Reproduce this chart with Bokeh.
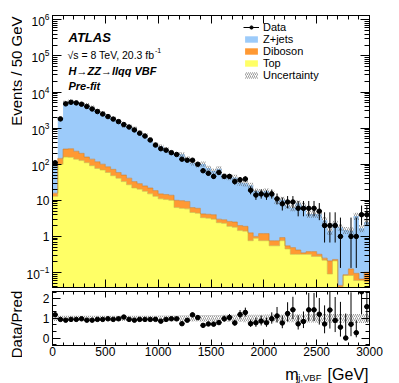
import numpy as np
from bokeh.plotting import figure
from bokeh.layouts import column, row
from bokeh.models import (Range1d, FixedTicker, LinearAxis, LogAxis, Label,
                          Legend, LegendItem)
from bokeh.embed import file_html
from bokeh.resources import INLINE

# ---------------- data ----------------
mjj_edges = list(range(0, 3001, 50))          # 50 GeV bins, 0..3000 GeV

data = [110, 1800, 4700, 5200, 5000, 4600, 3980, 3390, 2880, 2455,
        2090, 1778, 1514, 1259, 1072, 891, 724, 603, 468, 339,
        269, 245, 209, 186, 138, 129, 129, 100, 66, 56,
        46, 59, 46, 46, 33, 37, 39, 19, 14, 15,
        14, 15, 11, 8, 9, 9, 6, 6, 6, 6,
        5, 2, 2, 2, 1, 0, 1, 1, 4, 4]

zjets = [77, 1750, 4900, 5205, 5034, 4494, 4216, 3587, 2915, 2484,
         2048, 1800, 1486, 1127, 1087, 946, 733, 610, 471, 338,
         298, 243.5, 199, 180, 179, 133, 103, 90, 98, 74,
         61, 72, 44, 41.4, 40.5, 29, 28, 24.7, 17, 16.2,
         16.8, 14.5, 9.0, 9.5, 6.65, 5.76, 7.9, 6.75, 3.8, 3.8,
         3.8, 2.55, 1.19, 2.0, 1.76, 1.41, 1.3, 3.6, 1.63, 2.4]

diboson = [2.9, 45, 105, 114, 91, 74, 48, 47, 41, 31,
           26, 24, 18, 17, 14, 11, 8.6, 7.2, 6.8, 5.7,
           4.1, 4.0, 3.8, 3.7, 3.8, 3.5, 1.7, 1.6, 0.9, 0.9,
           1.0, 0.6, 0.6, 0.7, 0.7, 0.55, 0.5, 0.5, 0.11, 0.44,
           0.44, 0.21, 0.21, 0.17, 0.10, 0.17, 0.10, 0.03, 0.06, 0.10,
           0.04, 0.03, 0.12, 0.02, 0.024, 0.004, 0.043, 0.035, 0.006, 0.047]

top = [12.9, 100, 158, 155, 138, 126, 110, 91, 76, 69,
       59, 48, 41, 33, 27, 22, 20.4, 17.8, 15.1, 12.9,
       11, 10.5, 10, 6.3, 6.0, 5.8, 4.6, 4.4, 3.3, 3.2,
       3.0, 2.4, 2.3, 1.9, 1.8, 1.45, 1.4, 0.76, 0.89, 0.76,
       0.76, 0.55, 0.55, 0.76, 0.45, 0.32, 0.32, 0.32, 0.32, 0.28,
       0.28, 0.22, 0.091, 0.21, 0.02, 0.083, 0.083, 0.060, 0.060, 0.055]

# relative uncertainty of the prediction
uncert = [0.13, 0.13, 0.13, 0.13, 0.13, 0.13, 0.13, 0.13, 0.13, 0.13,
          0.13, 0.13, 0.13, 0.13, 0.13, 0.14, 0.14, 0.14, 0.14, 0.14,
          0.15, 0.15, 0.15, 0.15, 0.16, 0.16, 0.16, 0.16, 0.17, 0.17,
          0.17, 0.17, 0.18, 0.18, 0.18, 0.18, 0.19, 0.19, 0.19, 0.19,
          0.20, 0.20, 0.20, 0.20, 0.20, 0.20, 0.21, 0.21, 0.21, 0.21,
          0.22, 0.22, 0.22, 0.22, 0.22, 0.22, 0.23, 0.23, 0.23, 0.23]

x_ticks = [0, 500, 1000, 1500, 2000, 2500, 3000]
x_minor = list(range(0, 3001, 100))
y_decades = [-1, 0, 1, 2, 3, 4, 5, 6]
ratio_ticks = [0, 1, 2]

FONT = "Liberation Sans"
BLUE = "#9CCBFA"
ORANGE = "#FF9933"
YELLOW = "#FFFF66"

# ---------------- derived arrays ----------------
edges = np.array(mjj_edges, dtype=float)
centers = 0.5 * (edges[:-1] + edges[1:])
d = np.array(data, dtype=float)
s1 = np.array(top, dtype=float)
s2 = s1 + np.array(diboson, dtype=float)
s3 = s2 + np.array(zjets, dtype=float)
u = np.array(uncert, dtype=float)

x_step = np.repeat(edges, 2)[1:-1]


def step_poly(lo, hi):
    xs = np.concatenate([x_step, x_step[::-1]])
    ys = np.concatenate([np.repeat(hi, 2), np.repeat(lo, 2)[::-1]])
    return xs, ys


# Poisson-like asymmetric errors for data
err_lo = np.where(d > 0, np.sqrt(np.maximum(d - 0.25, 0)), 0.0)
err_hi = np.sqrt(d + 0.75) + 1.0

# ---------------- geometry (page px) ----------------
LW = 22                 # width of the left title strip
FL, FT, FB = 52, 15, 287
P_H = 289
Q_H = 71
T_H = 23
W = 399 - LW
TOTAL_H = P_H + Q_H + T_H
S_TOP = 15              # frame top of the left strip


def style_axis(ax, major_in, minor_in, show_labels=False, size=12):
    ax.major_tick_in = major_in
    ax.major_tick_out = 0
    ax.minor_tick_in = minor_in
    ax.minor_tick_out = 0
    ax.axis_line_color = "black"
    ax.major_tick_line_color = "black"
    ax.minor_tick_line_color = "black"
    if show_labels:
        ax.major_label_text_font = FONT
        ax.major_label_text_font_size = f"{size}px"
        ax.major_label_text_color = "black"
    else:
        ax.major_label_text_font_size = "1px"
        ax.major_label_text_color = None
        ax.major_label_standoff = 0


def base_fig(**kw):
    f = figure(output_backend="svg", toolbar_location=None, **kw)
    f.outline_line_color = "black"
    f.outline_line_width = 1
    f.xgrid.visible = False
    f.ygrid.visible = False
    f.background_fill_color = "white"
    f.border_fill_color = "white"
    return f


# ---------------- main figure ----------------
p = base_fig(width=W, height=P_H,
             x_range=Range1d(0, 3000), y_range=Range1d(10 ** -1.415, 10 ** 6.12),
             y_axis_type="log", min_border_left=FL - LW, min_border_right=399 - 369,
             min_border_top=FT, min_border_bottom=P_H - FB)

floor = np.full_like(s1, 1e-4)
xs, ys = step_poly(floor, s1)
r_top = p.patch(xs, ys, fill_color=YELLOW, line_color=None)
xs, ys = step_poly(s1, s2)
r_dib = p.patch(xs, ys, fill_color=ORANGE, line_color=None)
xs, ys = step_poly(s2, s3)
r_zj = p.patch(xs, ys, fill_color=BLUE, line_color=None)
p.line(x_step, np.repeat(s1, 2), line_color="#C8C040", line_width=0.6)
p.line(x_step, np.repeat(s2, 2), line_color="#C87828", line_width=0.6)

xs, ys = step_poly(s3 * (1 - u), s3 * (1 + u))
r_unc = p.patch(xs, ys, fill_alpha=0, line_color=None,
                hatch_pattern="/", hatch_color="#555555", hatch_scale=4,
                hatch_weight=0.6)

m = d > 0
p.segment(centers[m], (d - err_lo)[m], centers[m], (d + err_hi)[m],
          line_color="black", line_width=1)
r_hbar = p.segment(edges[:-1][m], d[m], edges[1:][m], d[m],
                   line_color="black", line_width=1)
r_pts = p.scatter(centers[m], d[m], size=4.5, color="black")

xt = FixedTicker(ticks=x_ticks, minor_ticks=x_minor)
y_major = [10.0 ** k for k in y_decades]
y_minor = [j * 10.0 ** k for k in range(-2, 7) for j in range(2, 10)]
yt = FixedTicker(ticks=y_major, minor_ticks=y_minor)

p.xaxis.ticker = xt
p.yaxis.ticker = yt
style_axis(p.xaxis[0], 8, 4)
style_axis(p.yaxis[0], 9, 5, show_labels=True, size=12)
p.yaxis[0].major_label_standoff = 3
p.yaxis[0].major_label_overrides = {1.0: "1", 10.0: "10"}
ax_top = LinearAxis(ticker=xt)
style_axis(ax_top, 8, 4)
p.add_layout(ax_top, "above")
ax_right = LogAxis(ticker=yt)
style_axis(ax_right, 9, 5)
p.add_layout(ax_right, "right")


def lab(fig, x, y, text, size, style="normal", align="left",
        baseline="alphabetic", angle=0.0, y_units="screen", y_offset=0):
    fig.add_layout(Label(x=x, y=y, x_units="screen", y_units=y_units,
                         y_offset=y_offset,
                         text=text, text_font=FONT, text_font_size=f"{size}px",
                         text_font_style=style, text_align=align,
                         text_baseline=baseline, angle=angle,
                         text_color="black"))


def plab(X, Y, text, size, **kw):          # page coords -> main frame coords
    lab(p, X - FL, FB - Y, text, size, **kw)


plab(68, 36.5, "ATLAS", 13, style="bold italic")
plab(67, 54, "\u221as = 8 TeV, 20.3 fb", 10.5)
plab(154.5, 49.5, "-1", 7)
plab(68, 70.5, "H\u2192ZZ\u2192llqq VBF", 11, style="bold italic")
plab(68, 85.5, "Pre-fit", 11, style="bold italic")

legend = Legend(items=[
    LegendItem(label="Data", renderers=[r_hbar, r_pts]),
    LegendItem(label="Z+jets", renderers=[r_zj]),
    LegendItem(label="Diboson", renderers=[r_dib]),
    LegendItem(label="Top", renderers=[r_top]),
    LegendItem(label="Uncertainty", renderers=[r_unc]),
], location=(191, 206))
legend.label_text_font = FONT
legend.label_text_font_size = "11px"
legend.label_text_color = "black"
legend.glyph_width = 16
legend.glyph_height = 8
legend.label_height = 8
legend.label_standoff = 4
legend.spacing = 0
legend.padding = 0
legend.margin = 0
legend.border_line_color = None
legend.background_fill_alpha = 0
p.add_layout(legend)

# ---------------- ratio figure ----------------
ratio = d / s3
r_lo = (d - err_lo) / s3
r_hi = (d + err_hi) / s3

q = base_fig(width=W, height=Q_H, x_range=p.x_range,
             y_range=Range1d(-0.38, 2.37),
             min_border_left=FL - LW, min_border_right=399 - 369,
             min_border_top=2, min_border_bottom=Q_H - 2 - 54)

xs, ys = step_poly(1 - u, 1 + u)
q.patch(xs, ys, fill_alpha=0, line_color=None, hatch_pattern="/",
        hatch_color="#555555", hatch_scale=4, hatch_weight=0.6)
q.segment(centers, r_lo, centers, r_hi, line_color="black", line_width=1)
q.segment(edges[:-1], ratio, edges[1:], ratio, line_color="black", line_width=1)
q.scatter(centers, ratio, size=4.5, color="black")

rt = FixedTicker(ticks=ratio_ticks,
                 minor_ticks=[-0.333, 0.333, 0.667, 1.333, 1.667, 2.333])
q.xaxis.ticker = xt
q.yaxis.ticker = rt
style_axis(q.xaxis[0], 6, 3, show_labels=True, size=12)
q.xaxis[0].major_label_standoff = 1
style_axis(q.yaxis[0], 8, 4, show_labels=True, size=12)
q.yaxis[0].major_label_standoff = 3
q_top = LinearAxis(ticker=xt)
style_axis(q_top, 6, 3)
q.add_layout(q_top, "above")
q_right = LinearAxis(ticker=rt)
style_axis(q_right, 8, 4)
q.add_layout(q_right, "right")


def strip(width, height, **kw):
    f = figure(width=width, height=height, output_backend="svg",
               toolbar_location=None, x_axis_location=None,
               y_axis_location=None,
               x_range=Range1d(0, 1), y_range=Range1d(0, 1), **kw)
    f.outline_line_color = None
    f.xgrid.visible = False
    f.ygrid.visible = False
    f.background_fill_color = "white"
    f.border_fill_color = "white"
    return f


# x-axis title strip (below the ratio panel); its frame is aligned with the
# frames above (52..369), so x is measured from the frame left edge and y
# from its top edge.
t = strip(W, T_H, min_border=0)
T_TOP = P_H + Q_H


def tlab(X, Y, text, size, **kw):
    lab(t, X - FL, 1.0, text, size, y_units="data", y_offset=-(Y - T_TOP), **kw)


tlab(368, 373.5, "[GeV]", 16, align="right")
tlab(321, 377, "jj,VBF", 9.5, align="right")
tlab(298, 373.5, "m", 16, align="right")

# y-axis title strip (left)
s = strip(LW, TOTAL_H, min_border_left=0, min_border_right=0,
          min_border_top=S_TOP, min_border_bottom=0)
lab(s, 16, 1.0, "Events / 50 GeV", 15, align="right", angle=np.pi / 2,
    y_units="data", y_offset=-1)
lab(s, 16, 1.0, "Data/Pred", 15, align="center", angle=np.pi / 2,
    y_units="data", y_offset=-(324 - S_TOP))

layout = row(s, column(p, q, t, spacing=0), spacing=0)
open("out.html", "w").write(file_html(layout, INLINE))
